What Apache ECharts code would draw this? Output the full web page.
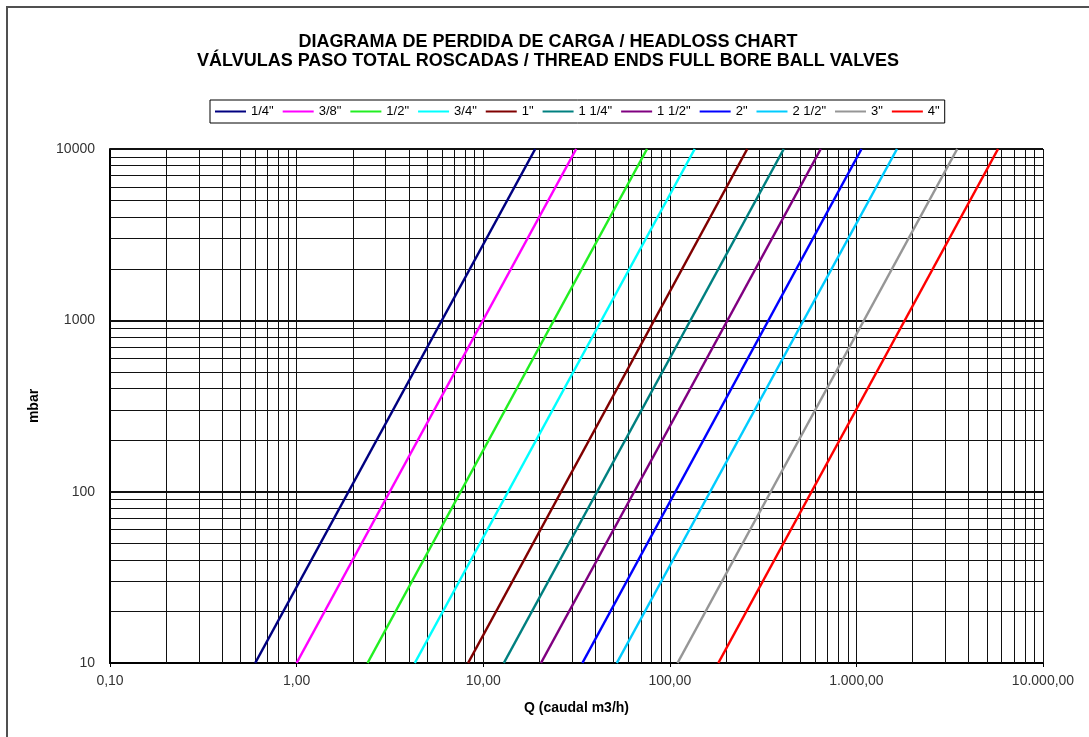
<!DOCTYPE html>
<html>
<head>
<meta charset="utf-8">
<script src="https://cdn.jsdelivr.net/npm/echarts@6/dist/echarts.min.js"></script>
<style>
html,body{margin:0;padding:0;background:#fff;}
#chart{width:1089px;height:737px;}
</style>
</head>
<body>
<div id="chart"></div>
<script>
// ---- data ----
const titleLines = ['DIAGRAMA DE PERDIDA DE CARGA / HEADLOSS CHART',
                    'VÁLVULAS PASO TOTAL ROSCADAS / THREAD ENDS FULL BORE BALL VALVES'];
const categories = ['1/4"', '3/8"', '1/2"', '3/4"', '1"', '1 1/4"', '1 1/2"', '2"', '2 1/2"', '3"', '4"'];
// flow (m3/h) where each line crosses 10 mbar and 10000 mbar
const flowAtLow  = [0.6, 1.0, 2.4, 4.3, 8.3, 12.9, 20.4, 34, 52, 110, 182];
const flowAtHigh = [19, 31.5, 75.5, 136, 260, 408, 644, 1065, 1650, 3470, 5740];
const headlossEnds = [10, 10000];
const xTickValues = [0.1, 1, 10, 100, 1000, 10000];
const yTickValues = [10, 100, 1000, 10000];
const minorMultipliers = [2, 3, 4, 5, 6, 7, 8, 9];

const colors = ['#000080', '#FF00FF', '#22EE22', '#00FFFF', '#800000', '#008080',
                '#800080', '#0000FF', '#00CCFF', '#969696', '#FF0000'];
const FONT = 'Liberation Sans, Arial, sans-serif';

// grid line values
const vMinor = [], hMinor = [];
for (let i = 0; i < xTickValues.length - 1; i++)
  minorMultipliers.forEach(m => vMinor.push(+(m * xTickValues[i]).toPrecision(6)));
for (let i = 0; i < yTickValues.length - 1; i++)
  minorMultipliers.forEach(m => hMinor.push(+(m * yTickValues[i]).toPrecision(6)));
const vMajor = xTickValues.slice(1);
const hMajor = yTickValues.slice(1);

function fmtEs(v) {
  const s = Number(v).toFixed(2);
  let [ip, dp] = s.split('.');
  ip = ip.replace(/\B(?=(\d{3})+(?!\d))/g, '.');
  return ip + ',' + dp;
}

const series = categories.map((name, i) => ({
  name: name,
  type: 'line',
  data: [[flowAtLow[i], headlossEnds[0]], [flowAtHigh[i], headlossEnds[1]]],
  symbol: 'none',
  showSymbol: false,
  z: 5,
  color: colors[i],
  lineStyle: { color: colors[i], width: 2.5 },
  itemStyle: { color: colors[i] },
  animation: false
}));

function gridSeries(name, lines, width) {
  return {
    name: name,
    type: 'line',
    data: [],
    z: 2,
    silent: true,
    animation: false,
    markLine: {
      silent: true,
      animation: false,
      symbol: ['none', 'none'],
      label: { show: false },
      lineStyle: { color: '#111', width: width, type: 'solid' },
      emphasis: { disabled: true },
      data: lines
    }
  };
}

series.push(gridSeries('_vminor', vMinor.concat(vMajor).map(v => ({ xAxis: v })), 1));
series.push(gridSeries('_hminor', hMinor.map(v => ({ yAxis: v })), 1));
series.push(gridSeries('_hmajor', hMajor.map(v => ({ yAxis: v })), 2));

const chart = echarts.init(document.getElementById('chart'), null, { renderer: 'canvas' });
chart.setOption({
  animation: false,
  backgroundColor: '#fff',
  textStyle: { fontFamily: FONT },
  graphic: [
    { type: 'rect', shape: { x: 7, y: 7, width: 1110, height: 760 },
      style: { fill: 'none', stroke: '#505050', lineWidth: 2 }, z: 0 },
    { type: 'text', x: 548, y: 42, style: { text: titleLines[0], fill: '#000',
      font: 'bold 18px ' + FONT, align: 'center', verticalAlign: 'middle' } },
    { type: 'text', x: 548, y: 61, style: { text: titleLines[1], fill: '#000',
      font: 'bold 18px ' + FONT, align: 'center', verticalAlign: 'middle' } }
  ],
  legend: {
    data: categories,
    left: 210,
    top: 100,
    orient: 'horizontal',
    itemWidth: 31,
    itemHeight: 2,
    itemGap: 9,
    padding: [5, 5],
    borderColor: '#000',
    borderWidth: 1,
    icon: 'rect',
    textStyle: { fontSize: 13, color: '#000', fontFamily: FONT },
    selectedMode: false
  },
  grid: { left: 110, right: 46, top: 149, bottom: 74, containLabel: false },
  xAxis: {
    type: 'log',
    logBase: 10,
    min: xTickValues[0],
    max: xTickValues[xTickValues.length - 1],
    name: 'Q (caudal m3/h)',
    nameLocation: 'middle',
    nameGap: 38,
    nameTextStyle: { fontSize: 14, fontWeight: 'bold', color: '#000', fontFamily: FONT },
    axisLine: { lineStyle: { color: '#000', width: 2 } },
    axisTick: { show: true, length: 4, lineStyle: { color: '#000', width: 1 } },
    axisLabel: { fontSize: 14, color: '#333', margin: 11, fontFamily: FONT, formatter: v => fmtEs(v) },
    splitLine: { show: false },
    minorTick: { show: false },
    minorSplitLine: { show: false }
  },
  yAxis: {
    type: 'log',
    logBase: 10,
    min: yTickValues[0],
    max: yTickValues[yTickValues.length - 1],
    name: 'mbar',
    nameLocation: 'middle',
    nameGap: 69,
    nameTextStyle: { fontSize: 14, fontWeight: 'bold', color: '#000', fontFamily: FONT },
    axisLine: { lineStyle: { color: '#000', width: 2 } },
    axisTick: { show: false },
    axisLabel: { fontSize: 14, color: '#333', margin: 15, fontFamily: FONT, formatter: v => String(Math.round(v)) },
    splitLine: { show: false }
  },
  series: series
});
</script>
</body>
</html>
